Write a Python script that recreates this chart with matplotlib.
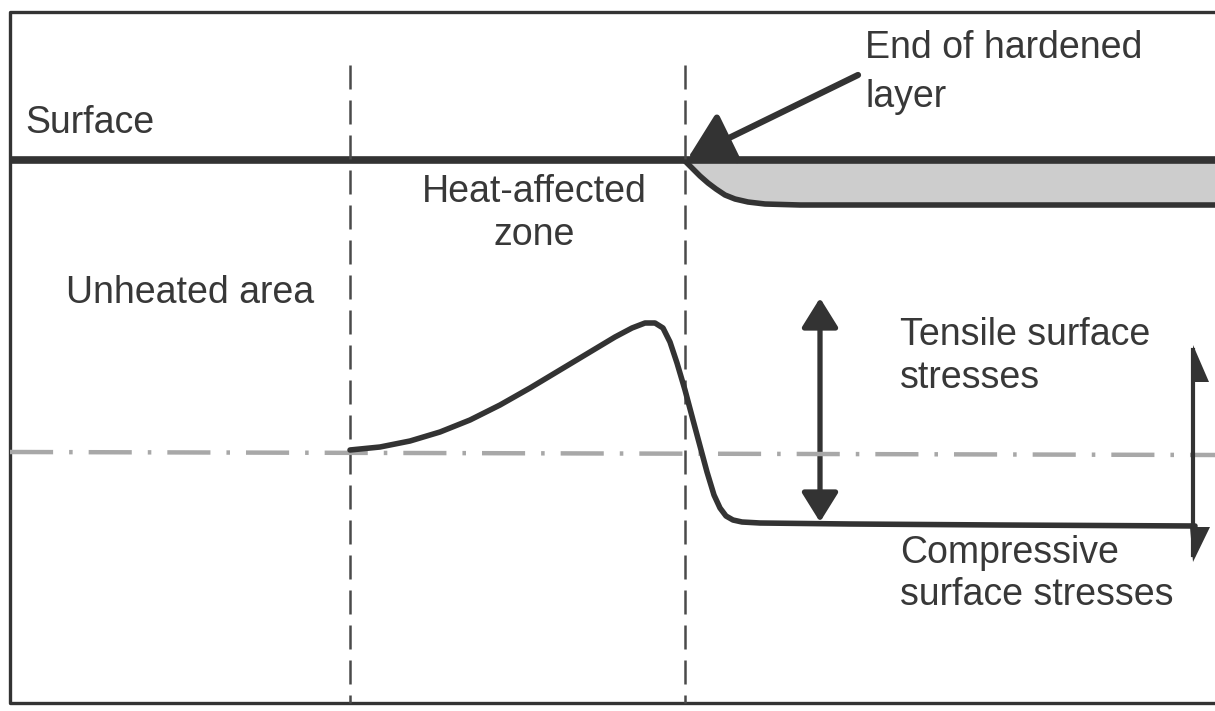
import matplotlib
matplotlib.use("Agg")
import matplotlib.pyplot as plt
from matplotlib.patches import Polygon, FancyArrowPatch
import numpy as np

plt.rcParams['font.family'] = ['Liberation Sans', 'DejaVu Sans']

# ---- data (diagram coordinates, pixel-like units, y downward) ----
frame_x = [1215, 10, 10, 1215]
frame_y = [12, 12, 703, 703]

surface_x = [10, 1215]
surface_y = [160, 160]

layer_bottom_x = [685, 692, 700, 708, 716, 725, 735, 748, 765, 800, 1215]
layer_bottom_y = [161, 168, 176, 183, 189, 195, 199, 202, 204, 205, 205]

zone_x = [350, 685]          # vertical dashed boundaries
zone_top, zone_bottom = 65, 703

neutral_x = [10, 1215]
neutral_y = [452, 455]

stress_x = [350, 380, 410, 440, 470, 500, 530, 560, 590, 615, 632, 645, 655,
            663, 670, 677, 685, 693, 700, 707, 714, 720, 726, 733, 742, 760,
            850, 1000, 1195]
stress_y = [450, 447, 441, 432, 420, 405, 388, 370, 352, 337, 328, 323, 323,
            328, 342, 363, 390, 420, 446, 472, 495, 508, 516, 520, 522, 523,
            524, 525, 526]

ink = '#333333'

fig = plt.figure(figsize=(12.15, 7.11), dpi=100)
ax = fig.add_axes([0, 0, 1, 1])
ax.set_xlim(0, 1215)
ax.set_ylim(711, 0)
ax.axis('off')

# frame
ax.plot(frame_x, frame_y, color=ink, lw=2.4, solid_capstyle='butt')

# hardened layer fill
lx = np.array(layer_bottom_x)
ly = np.array(layer_bottom_y)
ax.fill_between(lx, 162, ly, color='#cdcdcd', lw=0)
ax.plot(lx, ly, color=ink, lw=4, solid_joinstyle='round')

# surface line
ax.plot(surface_x, surface_y, color=ink, lw=5.5, solid_capstyle='butt')

# dashed zone boundaries
for x in zone_x:
    ax.plot([x, x], [zone_top, zone_bottom], color='#4a4a4a', lw=1.8,
            dashes=(9.6, 4.4))

# neutral dash-dot line
ax.plot(neutral_x, neutral_y, color='#a8a8a8', lw=3.2,
        dashes=(9.7, 3.6, 0.8, 3.6))

# residual stress curve
ax.plot(stress_x, stress_y, color=ink, lw=4, solid_joinstyle='round',
        solid_capstyle='round')

# double arrow for stress range
ax.add_patch(FancyArrowPatch((820, 298), (820, 522),
                             arrowstyle='<|-|>,head_length=0.45,head_width=0.28',
                             mutation_scale=40, color=ink, lw=3.8,
                             shrinkA=0, shrinkB=0))

# right-hand half-arrow axis
ax.plot([1193, 1193], [350, 555], color=ink, lw=3)
ax.add_patch(Polygon([[1193, 345], [1209, 382], [1193, 382]], closed=True,
                     color=ink, lw=0))
ax.add_patch(Polygon([[1190, 527], [1210, 527], [1193, 562]], closed=True,
                     color=ink, lw=0))

# arrow to end of hardened layer
ax.add_patch(FancyArrowPatch((858, 75), (688, 158),
                             arrowstyle='-|>,head_length=0.4,head_width=0.25',
                             mutation_scale=68, color=ink, lw=4.5,
                             shrinkA=0, shrinkB=0))

fs = 27
tc = '#383838'
ax.text(25, 133, 'Surface', fontsize=fs, color=tc, va='baseline')
ax.text(865, 58, 'End of hardened', fontsize=fs, color=tc, va='baseline')
ax.text(865, 107, 'layer', fontsize=fs, color=tc, va='baseline')
ax.text(534, 202, 'Heat-affected', fontsize=fs, color=tc, va='baseline', ha='center')
ax.text(534, 245, 'zone', fontsize=fs, color=tc, va='baseline', ha='center')
ax.text(66, 303, 'Unheated area', fontsize=fs, color=tc, va='baseline')
ax.text(900, 345, 'Tensile surface', fontsize=fs, color=tc, va='baseline')
ax.text(900, 388, 'stresses', fontsize=fs, color=tc, va='baseline')
ax.text(900, 563, 'Compressive', fontsize=fs, color=tc, va='baseline')
ax.text(900, 605, 'surface stresses', fontsize=fs, color=tc, va='baseline')

fig.savefig('out.png', dpi=100, facecolor='white')
